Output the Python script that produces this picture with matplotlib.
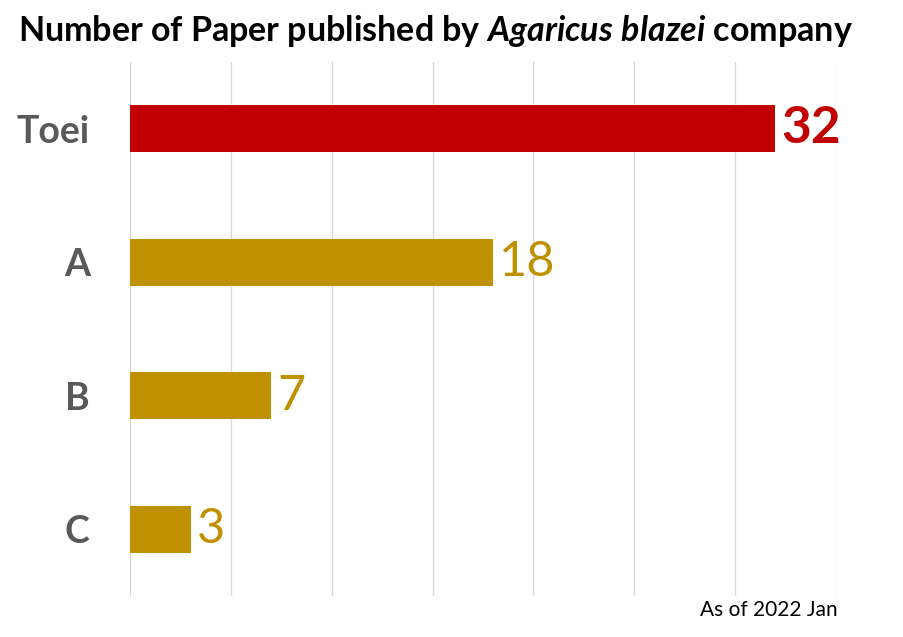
import matplotlib
matplotlib.use("Agg")
import matplotlib.pyplot as plt

categories = ["Toei", "A", "B", "C"]
values = [32, 18, 7, 3]
bar_colors = ["#C00000", "#BF9000", "#BF9000", "#BF9000"]
note = "As of 2022 Jan"

FONT = "Lato"
plt.rcParams['font.family'] = [FONT, 'DejaVu Sans']
plt.rcParams['mathtext.fontset'] = 'custom'
plt.rcParams['mathtext.rm'] = FONT
plt.rcParams['mathtext.it'] = FONT + ':italic'
plt.rcParams['mathtext.bf'] = FONT + ':bold'
plt.rcParams['mathtext.bfit'] = FONT + ':italic:bold'

fig = plt.figure(figsize=(9.04, 6.37), dpi=100)
ax = fig.add_axes([130/904, 41/637, 706/904, 534/637])

y = list(range(len(categories)))
ax.barh(y, values, height=0.35, color=bar_colors, zorder=3)
ax.set_xlim(0, 35)
ax.set_ylim(len(categories) - 0.5, -0.5)
ax.set_xticks(range(0, 36, 5))
ax.xaxis.grid(True, color="#D9D9D9", linewidth=1, zorder=0)
ax.tick_params(axis="x", length=0, labelbottom=False)
ax.tick_params(axis="y", length=0, pad=29)
ax.set_yticks(y)
ax.set_yticklabels(categories, fontsize=27, fontweight="bold", color="#595959")
for s in ax.spines.values():
    s.set_visible(False)

for i, (v, c) in enumerate(zip(values, bar_colors)):
    ax.text(v + 0.3, i, str(v), va="center", ha="left", color=c,
            fontsize=37 if i == 0 else 35,
            fontweight="bold" if i == 0 else "normal", zorder=4)

fig.text(18/904, 1 - 31/637,
         r"Number of Paper published by $\mathbfit{Agaricus\ blazei}$ company",
         ha="left", va="center", fontsize=24.5, fontweight="bold", color="black")
fig.text(838/904, 1 - 610/637, note, ha="right", va="center", fontsize=15, color="black")

fig.savefig("out.png", dpi=100)
